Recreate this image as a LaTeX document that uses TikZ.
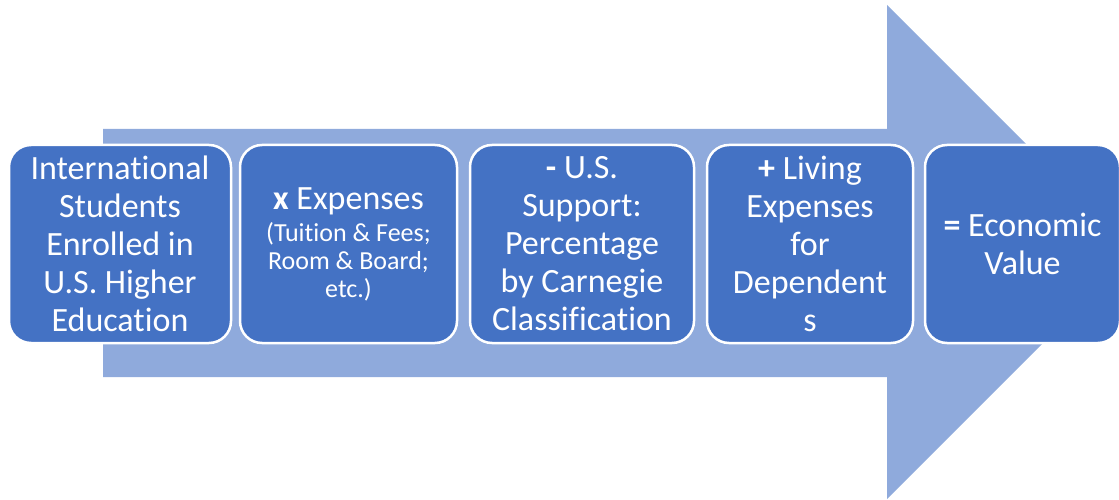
\documentclass[tikz,border=0pt]{standalone}
\usepackage{fontspec}
\setmainfont{Carlito}[Ligatures=NoCommon]
\usepackage{tikz}
\definecolor{arrowblue}{HTML}{8FAADC}
\definecolor{boxblue}{HTML}{4472C4}
\newcommand{\subtext}{\fontsize{26}{28}\selectfont}

\begin{document}
\begin{tikzpicture}
	[x=1pt,y=-1pt,
	 stepbox/.style={draw=white,line width=2.5pt,fill=boxblue,rounded corners=22pt,
	  minimum height=198pt,inner sep=0pt,align=center,text=white,
	  font=\fontsize{34}{38}\selectfont}]
\useasboundingbox (0,0) rectangle (1119,500);
\clip (0,0) rectangle (1119,500);
% big arrow behind the steps
\fill[arrowblue] (103,129) -- (887,129) -- (887,5) -- (1134,252)
	-- (887,499) -- (887,377) -- (103,377) -- cycle;
% LH: the five steps
\node[stepbox,minimum width=222pt] (n1) at (120,244)
	{International\\Students\\Enrolled in\\U.S. Higher\\Education};
\node[stepbox,minimum width=217pt] (n2) at (348.5,244)
	{\textbf{x} Expenses\\[-6pt]\subtext (Tuition \& Fees;\\[-10pt]\subtext Room \& Board;\\[-10pt]\subtext etc.)};
\node[stepbox,minimum width=224pt] (n3) at (582,244)
	{\textbf{-} U.S.\\Support:\\Percentage\\by Carnegie\\Classification};
\node[stepbox,minimum width=206pt] (n4) at (810,244)
	{\textbf{+} Living\\Expenses\\for\\Dependent\\s};
\node[stepbox,minimum width=195pt] (n5) at (1022.5,244)
	{\textbf{=} Economic\\Value};
\end{tikzpicture}
\end{document}
